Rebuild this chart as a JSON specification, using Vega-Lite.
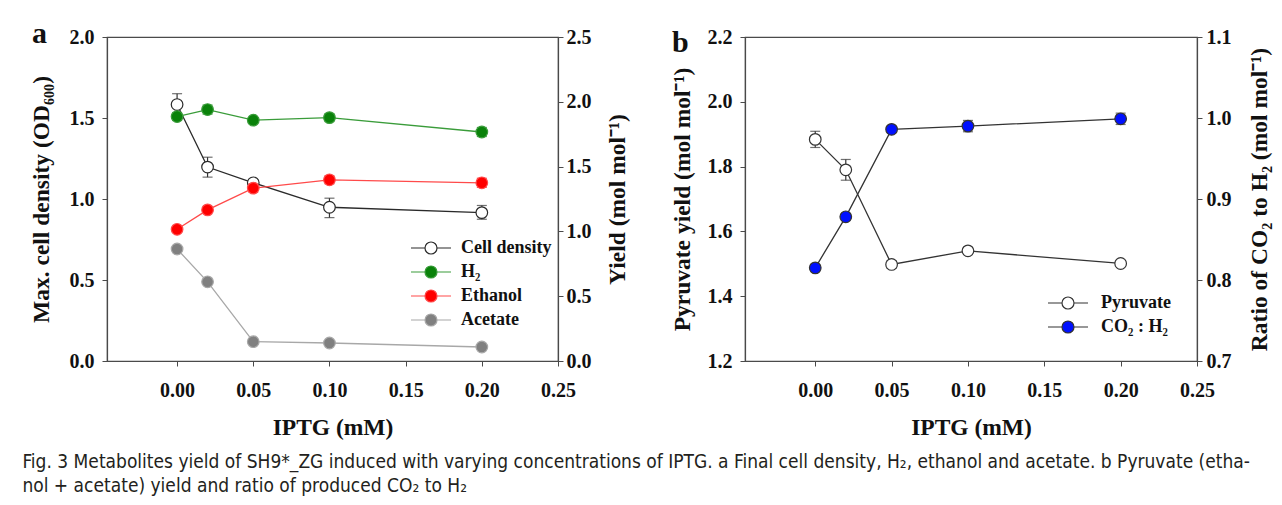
{
  "$schema": "https://vega.github.io/schema/vega-lite/v6.json",
  "background": "white",
  "padding": {"left": 22, "top": 18, "right": 2, "bottom": 2},
  "autosize": {"type": "pad"},
  "spacing": 39,
  "resolve": {"scale": {"fill": "independent", "stroke": "independent"}, "legend": {"fill": "independent", "stroke": "independent"}},
  "config": {
    "font": "Liberation Serif",
    "view": {"stroke": "#4a4a4a", "strokeWidth": 1.2},
    "axis": {
      "labelFont": "Liberation Serif", "labelFontWeight": "bold", "labelFontSize": 20, "labelColor": "#111",
      "titleFont": "Liberation Serif", "titleFontWeight": "bold", "titleFontSize": 23.5, "titleColor": "#111",
      "grid": false, "domainColor": "#4a4a4a", "domainWidth": 1.2, "tickColor": "#4a4a4a", "tickSize": 5, "labelPadding": 4, "labelFlush": false
    },
    "legend": {
      "labelFont": "Liberation Serif", "labelFontWeight": "bold", "labelFontSize": 18, "labelColor": "#111"
    }
  },
  "title": {
    "text": ["Fig. 3  Metabolites yield of SH9*_ZG induced with varying concentrations of IPTG. a Final cell density, H₂, ethanol and acetate. b Pyruvate (etha-", "nol + acetate) yield and ratio of produced CO₂ to H₂"],
    "orient": "bottom", "anchor": "start", "frame": "bounds",
    "font": "Liberation Sans Narrow, DejaVu Sans Condensed, sans-serif", "fontSize": 19, "fontWeight": "normal", "color": "#231f20",
    "lineHeight": 24, "offset": 14, "dx": -6
  },
  "datasets": {
    "a": [
      {"x": 0, "s": "Cell density", "v": 1.583, "lo": 1.52, "hi": 1.65},
      {"x": 0.02, "s": "Cell density", "v": 1.197, "lo": 1.135, "hi": 1.258},
      {"x": 0.05, "s": "Cell density", "v": 1.10, "lo": 1.08, "hi": 1.12},
      {"x": 0.1, "s": "Cell density", "v": 0.949, "lo": 0.885, "hi": 1.005},
      {"x": 0.2, "s": "Cell density", "v": 0.916, "lo": 0.875, "hi": 0.96},
      {"x": 0, "s": "H₂", "v": 1.886, "lo": 1.856, "hi": 1.916},
      {"x": 0.02, "s": "H₂", "v": 1.94, "lo": 1.905, "hi": 1.975},
      {"x": 0.05, "s": "H₂", "v": 1.858, "lo": 1.838, "hi": 1.878},
      {"x": 0.1, "s": "H₂", "v": 1.878, "lo": 1.848, "hi": 1.908},
      {"x": 0.2, "s": "H₂", "v": 1.767, "lo": 1.732, "hi": 1.802},
      {"x": 0, "s": "Ethanol", "v": 1.016, "lo": 0.996, "hi": 1.036},
      {"x": 0.02, "s": "Ethanol", "v": 1.166, "lo": 1.146, "hi": 1.186},
      {"x": 0.05, "s": "Ethanol", "v": 1.334, "lo": 1.304, "hi": 1.364},
      {"x": 0.1, "s": "Ethanol", "v": 1.398, "lo": 1.368, "hi": 1.428},
      {"x": 0.2, "s": "Ethanol", "v": 1.375, "lo": 1.34, "hi": 1.41},
      {"x": 0, "s": "Acetate", "v": 0.864, "lo": 0.854, "hi": 0.874},
      {"x": 0.02, "s": "Acetate", "v": 0.611, "lo": 0.601, "hi": 0.621},
      {"x": 0.05, "s": "Acetate", "v": 0.149, "lo": 0.139, "hi": 0.159},
      {"x": 0.1, "s": "Acetate", "v": 0.139, "lo": 0.129, "hi": 0.149},
      {"x": 0.2, "s": "Acetate", "v": 0.108, "lo": 0.098, "hi": 0.118}
    ],
    "b": [
      {"x": 0, "s": "Pyruvate", "v": 1.884, "lo": 1.859, "hi": 1.909},
      {"x": 0.02, "s": "Pyruvate", "v": 1.79, "lo": 1.758, "hi": 1.822},
      {"x": 0.05, "s": "Pyruvate", "v": 1.498, "lo": 1.486, "hi": 1.51},
      {"x": 0.1, "s": "Pyruvate", "v": 1.54, "lo": 1.53, "hi": 1.55},
      {"x": 0.2, "s": "Pyruvate", "v": 1.501, "lo": 1.493, "hi": 1.509},
      {"x": 0, "s": "CO₂ : H₂", "v": 0.815, "lo": 0.811, "hi": 0.819},
      {"x": 0.02, "s": "CO₂ : H₂", "v": 0.878, "lo": 0.874, "hi": 0.882},
      {"x": 0.05, "s": "CO₂ : H₂", "v": 0.986, "lo": 0.982, "hi": 0.99},
      {"x": 0.1, "s": "CO₂ : H₂", "v": 0.99, "lo": 0.983, "hi": 0.997},
      {"x": 0.2, "s": "CO₂ : H₂", "v": 0.999, "lo": 0.992, "hi": 1.006}
    ]
  },
  "hconcat": [
    {
      "width": 451, "height": 324,
      "title": {"text": "a", "anchor": "start", "frame": "bounds", "offset": -46, "baseline": "alphabetic", "fontSize": 30, "fontWeight": "bold", "font": "Liberation Serif", "color": "#111", "dx": 3},
      "data": {"name": "a"},
      "encoding": {
        "x": {"field": "x", "type": "quantitative", "scale": {"domain": [-0.046, 0.25], "nice": false, "zero": false},
          "axis": {"values": [0, 0.05, 0.1, 0.15, 0.2, 0.25], "format": ".2f", "title": "IPTG (mM)", "titlePadding": 15, "labelPadding": 14}}
      },
      "layer": [
        {
          "transform": [{"filter": "datum.s === 'Cell density'"}],
          "layer": [
            {"mark": {"type": "errorbar", "ticks": {"size": 10}, "thickness": 1.2},
             "encoding": {"y": {"field": "lo", "type": "quantitative", "scale": {"domain": [0, 2], "nice": false}, "title": "Max. cell density (OD₆₀₀)"}, "y2": {"field": "hi"}, "color": {"value": "#333"}}},
            {"mark": {"type": "line", "strokeWidth": 1.3},
             "encoding": {"y": {"field": "v", "type": "quantitative", "scale": {"domain": [0, 2], "nice": false},
               "axis": {"values": [0, 0.5, 1, 1.5, 2], "format": ".1f", "title": "Max. cell density (OD₆₀₀)", "titlePadding": 16, "labelPadding": 8, "orient": "left"}},
               "stroke": {"field": "s", "type": "nominal", "scale": {"domain": ["Cell density", "H₂", "Ethanol", "Acetate"], "range": ["#2a2a2a", "#3a9c3a", "#ff4a4a", "#a8a8a8"]},
                 "legend": {"title": null, "orient": "none", "legendX": 313, "legendY": 200, "symbolType": "M-2,0L-0.6,0M0.6,0L2,0M0.6,0A0.6,0.6,0,1,1,-0.6,0A0.6,0.6,0,1,1,0.6,0Z", "symbolSize": 400, "symbolStrokeWidth": 1.2, "symbolOpacity": 1, "labelOffset": 19, "rowPadding": 4, "padding": 0}}}},
            {"mark": {"type": "circle", "size": 135, "opacity": 1, "strokeWidth": 1.2},
             "encoding": {"y": {"field": "v", "type": "quantitative", "scale": {"domain": [0, 2], "nice": false}},
               "fill": {"field": "s", "type": "nominal", "scale": {"domain": ["Cell density", "H₂", "Ethanol", "Acetate"], "range": ["#ffffff", "#0a820a", "#ff0000", "#808080"]},
                 "legend": {"title": null, "orient": "none", "legendX": 313, "legendY": 200, "symbolType": "M-2,0L-0.6,0M0.6,0L2,0M0.6,0A0.6,0.6,0,1,1,-0.6,0A0.6,0.6,0,1,1,0.6,0Z", "symbolSize": 400, "symbolStrokeWidth": 1.2, "symbolOpacity": 1, "labelOffset": 19, "rowPadding": 4, "padding": 0}},
               "stroke": {"field": "s", "type": "nominal", "scale": {"domain": ["Cell density", "H₂", "Ethanol", "Acetate"], "range": ["#2a2a2a", "#3a9c3a", "#ff4a4a", "#a8a8a8"]},
                 "legend": {"title": null, "orient": "none", "legendX": 313, "legendY": 200, "symbolType": "M-2,0L-0.6,0M0.6,0L2,0M0.6,0A0.6,0.6,0,1,1,-0.6,0A0.6,0.6,0,1,1,0.6,0Z", "symbolSize": 400, "symbolStrokeWidth": 1.2, "symbolOpacity": 1, "labelOffset": 19, "rowPadding": 4, "padding": 0}}}}
          ]
        },
        {
          "transform": [{"filter": "datum.s !== 'Cell density'"}],
          "layer": [
            {"transform": [{"filter": "datum.s === 'H₂'"}],
             "mark": {"type": "errorbar", "ticks": {"size": 10}, "thickness": 1.2},
             "encoding": {"y": {"field": "lo", "type": "quantitative", "scale": {"domain": [0, 2.5], "nice": false}, "title": "Yield (mol mol⁻¹)"}, "y2": {"field": "hi"}, "color": {"value": "#0a820a"}}},
            {"transform": [{"filter": "datum.s === 'Ethanol'"}],
             "mark": {"type": "errorbar", "ticks": {"size": 10}, "thickness": 1.2},
             "encoding": {"y": {"field": "lo", "type": "quantitative", "scale": {"domain": [0, 2.5], "nice": false}, "title": "Yield (mol mol⁻¹)"}, "y2": {"field": "hi"}, "color": {"value": "#ff0000"}}},
            {"transform": [{"filter": "datum.s === 'Acetate'"}],
             "mark": {"type": "errorbar", "ticks": {"size": 10}, "thickness": 1.2},
             "encoding": {"y": {"field": "lo", "type": "quantitative", "scale": {"domain": [0, 2.5], "nice": false}, "title": "Yield (mol mol⁻¹)"}, "y2": {"field": "hi"}, "color": {"value": "#808080"}}},
            {"mark": {"type": "line", "strokeWidth": 1.3},
             "encoding": {"y": {"field": "v", "type": "quantitative", "scale": {"domain": [0, 2.5], "nice": false},
               "axis": {"values": [0, 0.5, 1, 1.5, 2, 2.5], "format": ".1f", "title": "Yield (mol mol⁻¹)", "orient": "right", "titleAngle": 270, "titleBaseline": "top", "titlePadding": 14, "labelPadding": 3}},
               "stroke": {"field": "s", "type": "nominal", "scale": {"domain": ["Cell density", "H₂", "Ethanol", "Acetate"], "range": ["#2a2a2a", "#3a9c3a", "#ff4a4a", "#a8a8a8"]},
                 "legend": {"title": null, "orient": "none", "legendX": 313, "legendY": 200, "symbolType": "M-2,0L-0.6,0M0.6,0L2,0M0.6,0A0.6,0.6,0,1,1,-0.6,0A0.6,0.6,0,1,1,0.6,0Z", "symbolSize": 400, "symbolStrokeWidth": 1.2, "symbolOpacity": 1, "labelOffset": 19, "rowPadding": 4, "padding": 0}}}},
            {"mark": {"type": "circle", "size": 135, "opacity": 1, "strokeWidth": 1.2},
             "encoding": {"y": {"field": "v", "type": "quantitative", "scale": {"domain": [0, 2.5], "nice": false}},
               "fill": {"field": "s", "type": "nominal", "scale": {"domain": ["Cell density", "H₂", "Ethanol", "Acetate"], "range": ["#ffffff", "#0a820a", "#ff0000", "#808080"]},
                 "legend": {"title": null, "orient": "none", "legendX": 313, "legendY": 200, "symbolType": "M-2,0L-0.6,0M0.6,0L2,0M0.6,0A0.6,0.6,0,1,1,-0.6,0A0.6,0.6,0,1,1,0.6,0Z", "symbolSize": 400, "symbolStrokeWidth": 1.2, "symbolOpacity": 1, "labelOffset": 19, "rowPadding": 4, "padding": 0}},
               "stroke": {"field": "s", "type": "nominal", "scale": {"domain": ["Cell density", "H₂", "Ethanol", "Acetate"], "range": ["#2a2a2a", "#3a9c3a", "#ff4a4a", "#a8a8a8"]},
                 "legend": {"title": null, "orient": "none", "legendX": 313, "legendY": 200, "symbolType": "M-2,0L-0.6,0M0.6,0L2,0M0.6,0A0.6,0.6,0,1,1,-0.6,0A0.6,0.6,0,1,1,0.6,0Z", "symbolSize": 400, "symbolStrokeWidth": 1.2, "symbolOpacity": 1, "labelOffset": 19, "rowPadding": 4, "padding": 0}}}}
          ]
        }
      ],
      "resolve": {"scale": {"y": "independent"}}
    },
    {
      "width": 452, "height": 324,
      "title": {"text": "b", "anchor": "start", "frame": "bounds", "offset": -55, "baseline": "alphabetic", "fontSize": 30, "fontWeight": "bold", "font": "Liberation Serif", "color": "#111", "dx": 2},
      "data": {"name": "b"},
      "encoding": {
        "x": {"field": "x", "type": "quantitative", "scale": {"domain": [-0.046, 0.25], "nice": false, "zero": false},
          "axis": {"values": [0, 0.05, 0.1, 0.15, 0.2, 0.25], "format": ".2f", "title": "IPTG (mM)", "titlePadding": 15, "labelPadding": 14}}
      },
      "layer": [
        {
          "transform": [{"filter": "datum.s === 'Pyruvate'"}],
          "layer": [
            {"mark": {"type": "errorbar", "ticks": {"size": 10}, "thickness": 1.2},
             "encoding": {"y": {"field": "lo", "type": "quantitative", "scale": {"domain": [1.2, 2.2], "nice": false, "zero": false}, "title": "Pyruvate yield (mol mol⁻¹)"}, "y2": {"field": "hi"}, "color": {"value": "#333"}}},
            {"mark": {"type": "line", "strokeWidth": 1.3, "color": "#333333"},
             "encoding": {"y": {"field": "v", "type": "quantitative", "scale": {"domain": [1.2, 2.2], "nice": false, "zero": false},
               "axis": {"values": [1.2, 1.4, 1.6, 1.8, 2.0, 2.2], "format": ".1f", "title": "Pyruvate yield (mol mol⁻¹)", "titlePadding": 13, "labelPadding": 8, "orient": "left"}}}},
            {"mark": {"type": "circle", "size": 135, "opacity": 1, "strokeWidth": 1.2},
             "encoding": {"y": {"field": "v", "type": "quantitative", "scale": {"domain": [1.2, 2.2], "nice": false, "zero": false}},
               "fill": {"field": "s", "type": "nominal", "scale": {"domain": ["Pyruvate", "CO₂ : H₂"], "range": ["#ffffff", "#0010ff"]},
                 "legend": {"title": null, "orient": "none", "legendX": 312, "legendY": 255, "symbolType": "M-2,0L-0.6,0M0.6,0L2,0M0.6,0A0.6,0.6,0,1,1,-0.6,0A0.6,0.6,0,1,1,0.6,0Z", "symbolSize": 400, "symbolStrokeWidth": 1.2, "symbolOpacity": 1, "labelOffset": 22, "rowPadding": 4, "padding": 0}},
               "stroke": {"field": "s", "type": "nominal", "scale": {"domain": ["Pyruvate", "CO₂ : H₂"], "range": ["#333333", "#333333"]},
                 "legend": {"title": null, "orient": "none", "legendX": 312, "legendY": 255, "symbolType": "M-2,0L-0.6,0M0.6,0L2,0M0.6,0A0.6,0.6,0,1,1,-0.6,0A0.6,0.6,0,1,1,0.6,0Z", "symbolSize": 400, "symbolStrokeWidth": 1.2, "symbolOpacity": 1, "labelOffset": 22, "rowPadding": 4, "padding": 0}}}}
          ]
        },
        {
          "transform": [{"filter": "datum.s !== 'Pyruvate'"}],
          "layer": [
            {"mark": {"type": "errorbar", "ticks": {"size": 10}, "thickness": 1.2},
             "encoding": {"y": {"field": "lo", "type": "quantitative", "scale": {"domain": [0.7, 1.1], "nice": false, "zero": false}, "title": "Ratio of CO₂ to H₂ (mol mol⁻¹)"}, "y2": {"field": "hi"}, "color": {"value": "#333"}}},
            {"mark": {"type": "line", "strokeWidth": 1.3, "color": "#333333"},
             "encoding": {"y": {"field": "v", "type": "quantitative", "scale": {"domain": [0.7, 1.1], "nice": false, "zero": false},
               "axis": {"values": [0.7, 0.8, 0.9, 1.0, 1.1], "format": ".1f", "title": "Ratio of CO₂ to H₂ (mol mol⁻¹)", "orient": "right", "titleAngle": 270, "titleBaseline": "top", "titlePadding": 16, "labelPadding": 4}}}},
            {"mark": {"type": "circle", "size": 135, "opacity": 1, "strokeWidth": 1.2},
             "encoding": {"y": {"field": "v", "type": "quantitative", "scale": {"domain": [0.7, 1.1], "nice": false, "zero": false}},
               "fill": {"field": "s", "type": "nominal", "scale": {"domain": ["Pyruvate", "CO₂ : H₂"], "range": ["#ffffff", "#0010ff"]},
                 "legend": {"title": null, "orient": "none", "legendX": 312, "legendY": 255, "symbolType": "M-2,0L-0.6,0M0.6,0L2,0M0.6,0A0.6,0.6,0,1,1,-0.6,0A0.6,0.6,0,1,1,0.6,0Z", "symbolSize": 400, "symbolStrokeWidth": 1.2, "symbolOpacity": 1, "labelOffset": 22, "rowPadding": 4, "padding": 0}},
               "stroke": {"field": "s", "type": "nominal", "scale": {"domain": ["Pyruvate", "CO₂ : H₂"], "range": ["#333333", "#333333"]},
                 "legend": {"title": null, "orient": "none", "legendX": 312, "legendY": 255, "symbolType": "M-2,0L-0.6,0M0.6,0L2,0M0.6,0A0.6,0.6,0,1,1,-0.6,0A0.6,0.6,0,1,1,0.6,0Z", "symbolSize": 400, "symbolStrokeWidth": 1.2, "symbolOpacity": 1, "labelOffset": 22, "rowPadding": 4, "padding": 0}}}}
          ]
        }
      ],
      "resolve": {"scale": {"y": "independent"}}
    }
  ]
}
